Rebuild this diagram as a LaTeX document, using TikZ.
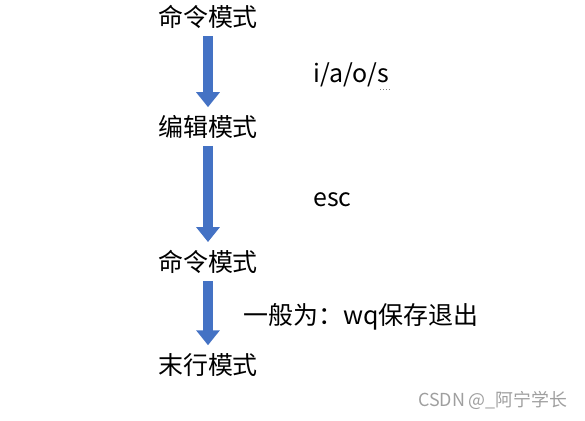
\documentclass[tikz,border=0pt]{standalone}
\usepackage{fontspec}
\setmainfont{Noto Sans CJK SC}
\usepackage{xcolor}
\usetikzlibrary{arrows.meta}
\definecolor{officeblue}{HTML}{4472C4}

\begin{document}
\begin{tikzpicture}[
    x=0.02cm, y=-0.02cm,
    mode/.style={
      inner sep=0pt, font=\fontsize{14.2}{17}\selectfont
    },
    note/.style={inner sep=0pt, anchor=west, font=\fontsize{14.2}{17}\selectfont},
    bigarrow/.style={
      -{Triangle[width=13pt, length=8.5pt]}, line width=5.6pt,
      draw=officeblue, shorten <=4pt, shorten >=4.5pt
    },
  ]
  \useasboundingbox (0,0) rectangle (585,420);

  % Modes (left column)
  \node[mode] (cmdA) at (208,17)  {命令模式};
  \node[mode] (edit) at (208,127) {编辑模式};
  \node[mode] (cmdB) at (208,262) {命令模式};
  \node[mode] (last) at (208,365) {末行模式};

  % Keys next to the arrows
  \node[note] (iaos) at (313,75)  {i/a/o/s};
  \node[note] (esc)  at (313,200) {esc};
  \node[note] (save) at (243,317) {一般为：wq保存退出};
  \draw[densely dotted, gray, line width=0.6pt] ([xshift=-5pt,yshift=-1pt]iaos.south east) -- ([yshift=-1pt]iaos.south east);

  % Block arrows
  \draw[bigarrow] (cmdA.south) -- (edit.north);
  \draw[bigarrow] (edit.south) -- (cmdB.north);
  \draw[bigarrow] (cmdB.south) -- (last.north);

  % Watermark
  \node[inner sep=0pt, anchor=east, text=gray!75, font=\fontsize{10.2}{12}\selectfont]
    (mark) at (568,400) {CSDN @\_阿宁学长};

\end{tikzpicture}
\end{document}
